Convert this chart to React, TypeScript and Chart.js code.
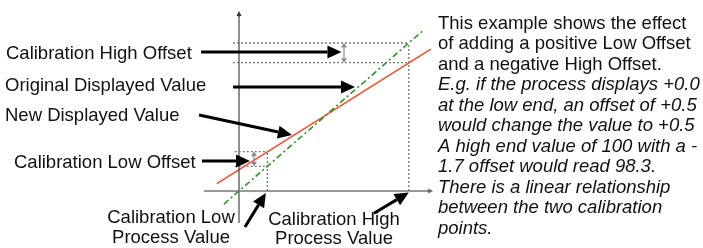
import React, { useEffect, useRef } from "react";
import { Chart, registerables } from "chart.js";
Chart.register(...registerables);

// ---- data (process value on x, displayed value on y) ----
const calProcessValues = [1, 6]; // low, high calibration process values
const originalDisplayed = [1, 6]; // displayed before offsets
const newDisplayed = [1.6, 5.2]; // displayed after low (+) / high (-) offsets
const originalLineX = [-0.53, 6.47];
const originalLineY = [-0.53, 6.47];
const newLineX = [-0.78, 6.78];
const newLineY = [0.3, 5.75];
const axisXRange = [-1.24, 6.86];
const axisYRange = [-1.3, 7.3];
const guideStartX = [-0.15, -0.21];

const leftLabels = [
  "Calibration High Offset",
  "Original Displayed Value",
  "New Displayed Value",
  "Calibration Low Offset",
];
const bottomLabels = [
  ["Calibration Low", "Process Value"],
  ["Calibration High", "Process Value"],
];
const noteLines = [
  "This example shows the effect",
  "of adding a positive Low Offset",
  "and a negative High Offset.",
  "E.g. if the process displays +0.0",
  "at the low end, an offset of +0.5",
  "would change the value to +0.5",
  "A high end value of 100 with a -",
  "1.7 offset would read 98.3.",
  "There is a linear relationship",
  "between the two calibration",
  "points.",
];
const noteItalicFrom = 3;

// ---- layout ----
const W = 703;
const H = 248;
const FONT = '"Liberation Sans", Arial, Helvetica, sans-serif';
const FS = 18.5;
const leftLabelPos = [
  [6, 59],
  [5, 91],
  [5, 121],
  [14, 168],
];
const bottomLabelPos = [
  [171, 223, 243],
  [334, 225, 244],
];
const noteX = 438;
const noteY0 = 28.5;
const noteDY = 20.5;
// black pointer arrows in data coordinates [x1, y1, x2, y2]
const pointers = [
  [-1.34, 5.63, 3.62, 5.63],
  [-0.21, 4.22, 4.1, 4.22],
  [-1.41, 3.08, 1.87, 2.27],
  [-1.31, 1.22, 0.39, 1.22],
  [0.21, -1.46, 0.95, -0.08],
  [4.77, -0.9, 6.0, -0.06],
];
const offsetMarkX = [0.53, 3.71];

function drawArrow(ctx, x1, y1, x2, y2, lw, head, halfW, color) {
  const a = Math.atan2(y2 - y1, x2 - x1);
  const bx = x2 - head * Math.cos(a);
  const by = y2 - head * Math.sin(a);
  ctx.strokeStyle = color;
  ctx.lineWidth = lw;
  ctx.setLineDash([]);
  ctx.beginPath();
  ctx.moveTo(x1, y1);
  ctx.lineTo(bx, by);
  ctx.stroke();
  ctx.fillStyle = color;
  ctx.beginPath();
  ctx.moveTo(x2, y2);
  ctx.lineTo(bx - halfW * Math.sin(a), by + halfW * Math.cos(a));
  ctx.lineTo(bx + halfW * Math.sin(a), by - halfW * Math.cos(a));
  ctx.closePath();
  ctx.fill();
}

const overlayPlugin = {
  id: "overlay",
  afterDatasetsDraw(chart) {
    const ctx = chart.ctx;
    const sx = chart.scales.x;
    const sy = chart.scales.y;
    const X = (v) => sx.getPixelForValue(v);
    const Y = (v) => sy.getPixelForValue(v);
    ctx.save();
    // axis arrowheads
    drawArrow(ctx, X(axisXRange[1]) - 6, Y(0), X(axisXRange[1]), Y(0), 1, 5, 2.5, "#666");
    drawArrow(ctx, X(0), Y(axisYRange[1]) + 6, X(0), Y(axisYRange[1]), 1, 5, 2.5, "#333");
    // offset double arrows (gray)
    for (let i = 0; i < 2; i++) {
      const x = X(offsetMarkX[i]);
      const ya = Y(originalDisplayed[i]);
      const yb = Y(newDisplayed[i]);
      const ym = (ya + yb) / 2;
      drawArrow(ctx, x, ym, x, ya, 1.2, 4.5, 3, "#888");
      drawArrow(ctx, x, ym, x, yb, 1.2, 4.5, 3, "#888");
    }
    // black pointers
    for (const p of pointers) {
      drawArrow(ctx, X(p[0]), Y(p[1]), X(p[2]), Y(p[3]), 3, 14, 6.5, "#000");
    }
    // labels
    ctx.fillStyle = "#111";
    ctx.textBaseline = "alphabetic";
    ctx.font = `${FS}px ${FONT}`;
    ctx.textAlign = "left";
    leftLabels.forEach((t, i) => ctx.fillText(t, leftLabelPos[i][0], leftLabelPos[i][1]));
    ctx.textAlign = "center";
    bottomLabels.forEach((lines, i) => {
      ctx.fillText(lines[0], bottomLabelPos[i][0], bottomLabelPos[i][1]);
      ctx.fillText(lines[1], bottomLabelPos[i][0], bottomLabelPos[i][2]);
    });
    ctx.textAlign = "left";
    noteLines.forEach((t, i) => {
      ctx.font = `${i >= noteItalicFrom ? "italic " : ""}${FS}px ${FONT}`;
      ctx.fillText(t, noteX, noteY0 + i * noteDY);
    });
    ctx.restore();
  },
};

export default function App() {
  const ref = useRef(null);
  useEffect(() => {
    document.body.style.margin = "0";
    const pxPerX = 28.3;
    const pxPerY = 24.67;
    const originPx = [239, 191];
    const guides = [];
    for (let i = 0; i < 2; i++) {
      const cx = calProcessValues[i];
      guides.push({ x: guideStartX[i], y: originalDisplayed[i] }, { x: cx, y: originalDisplayed[i] }, { x: cx, y: null });
      guides.push({ x: guideStartX[i], y: newDisplayed[i] }, { x: cx, y: newDisplayed[i] }, { x: cx, y: null });
      guides.push({ x: cx, y: 0 }, { x: cx, y: Math.max(originalDisplayed[i], newDisplayed[i]) }, { x: cx, y: null });
    }
    const chart = new Chart(ref.current, {
      type: "line",
      data: {
        datasets: [
          {
            label: "guides",
            data: guides,
            borderColor: "#777",
            borderWidth: 1.3,
            borderDash: [2, 2],
            pointRadius: 0,
            spanGaps: false,
          },
          {
            label: "x axis",
            data: [
              { x: axisXRange[0], y: 0 },
              { x: axisXRange[1] - 0.15, y: 0 },
            ],
            borderColor: "#777",
            borderWidth: 1.3,
            pointRadius: 0,
          },
          {
            label: "y axis",
            data: [
              { x: 0, y: axisYRange[0] },
              { x: 0, y: axisYRange[1] - 0.15 },
            ],
            borderColor: "#444",
            borderWidth: 1.2,
            pointRadius: 0,
          },
          {
            label: "Original Displayed Value",
            data: originalLineX.map((x, i) => ({ x, y: originalLineY[i] })),
            borderColor: "#1f9a1f",
            borderWidth: 1.6,
            borderDash: [6, 3, 2, 3],
            pointRadius: 0,
          },
          {
            label: "New Displayed Value",
            data: newLineX.map((x, i) => ({ x, y: newLineY[i] })),
            borderColor: "#ff4a26",
            borderWidth: 1.6,
            pointRadius: 0,
          },
        ],
      },
      options: {
        animation: false,
        responsive: false,
        events: [],
        layout: { padding: 0 },
        plugins: { legend: { display: false }, tooltip: { enabled: false } },
        scales: {
          x: {
            type: "linear",
            display: false,
            min: -originPx[0] / pxPerX,
            max: (W - originPx[0]) / pxPerX,
          },
          y: {
            type: "linear",
            display: false,
            min: -(H - originPx[1]) / pxPerY,
            max: originPx[1] / pxPerY,
          },
        },
      },
      plugins: [overlayPlugin],
    });
    return () => chart.destroy();
  }, []);
  return (
    <div style={{ width: W, height: H, background: "#fff" }}>
      <canvas ref={ref} width={W} height={H} style={{ display: "block", width: W, height: H }} />
    </div>
  );
}
